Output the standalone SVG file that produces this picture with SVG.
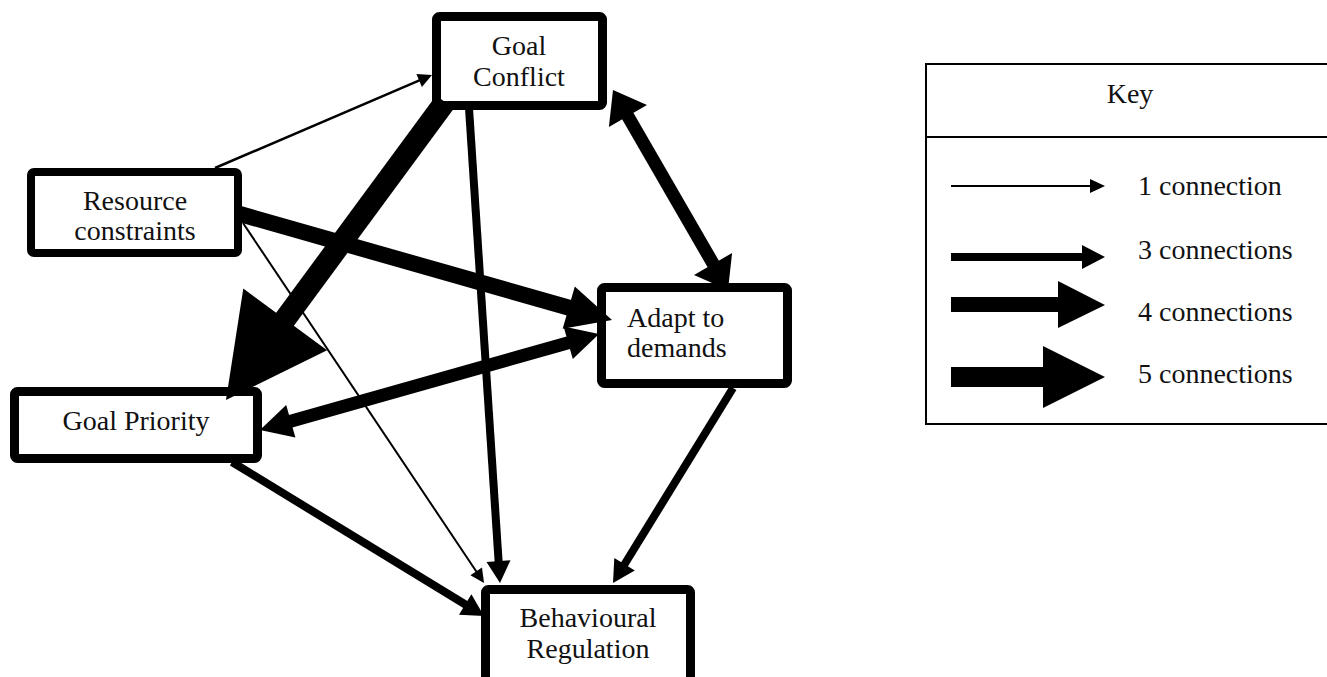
<svg xmlns="http://www.w3.org/2000/svg" width="1327" height="677" viewBox="0 0 1327 677">
<style>
.node{fill:#fff;stroke:#000;stroke-width:9;}
.t{font-family:"Liberation Serif","Times New Roman",serif;font-size:28px;fill:#111;}
.c{text-anchor:middle;}
.sh{stroke:#000;fill:none;stroke-linecap:butt;}
.hd{fill:#000;stroke:none;}
</style>
<rect width="1327" height="677" fill="#fff"/>
<g id="node-goal-conflict">
<rect class="node" x="436.5" y="16.5" width="166" height="89" rx="3"/>
<text class="t c" x="519" y="55">Goal</text>
<text class="t c" x="519" y="86">Conflict</text>
</g>
<g id="node-resource-constraints">
<rect class="node" x="31" y="172" width="207" height="81" rx="3" style="stroke-width:8"/>
<text class="t c" x="135" y="210">Resource</text>
<text class="t c" x="135" y="240">constraints</text>
</g>
<g id="node-goal-priority">
<rect class="node" x="14.5" y="391.5" width="243" height="67" rx="3"/>
<text class="t c" x="136" y="430">Goal Priority</text>
</g>
<g id="node-adapt">
<rect class="node" x="601.5" y="287.5" width="186" height="96" rx="3"/>
<text class="t" x="627" y="327">Adapt to</text>
<text class="t" x="627" y="357">demands</text>
</g>
<g id="node-behavioural">
<rect class="node" x="485.5" y="589.5" width="205" height="100" rx="3"/>
<text class="t c" x="588" y="627">Behavioural</text>
<text class="t c" x="588" y="658">Regulation</text>
</g>
<g id="connectors">
<line class="sh" x1="215" y1="168" x2="420" y2="80.2" stroke-width="2.5"/>
<polygon class="hd" points="432,75 421.9,87 416.4,74.1"/>
<line class="sh" x1="240" y1="214" x2="570" y2="308" stroke-width="16"/>
<polygon class="hd" points="612,320 562.7,328.8 574.8,286.5"/>
<line class="sh" x1="243" y1="223" x2="477" y2="572.5" stroke-width="2"/>
<polygon class="hd" points="484,583 470.4,575.3 482,567.5"/>
<line class="sh" x1="445" y1="102" x2="283" y2="322" stroke-width="22"/>
<polygon class="hd" points="226,400 243.3,288.6 327.1,350.2"/>
<line class="sh" x1="469" y1="108" x2="498.7" y2="563" stroke-width="8"/>
<polygon class="hd" points="500,583 486.5,561.9 510.5,560.2"/>
<line class="sh" x1="626" y1="113" x2="715" y2="267" stroke-width="13"/>
<polygon class="hd" points="613,90 608.9,127 647,105"/>
<polygon class="hd" points="728,290 694,275 732.1,253"/>
<line class="sh" x1="288" y1="422" x2="571" y2="342" stroke-width="13"/>
<polygon class="hd" points="260,430 295.4,437.6 286.2,404.9"/>
<polygon class="hd" points="599,334 572.8,359.1 563.6,326.4"/>
<line class="sh" x1="232" y1="462" x2="467" y2="605.5" stroke-width="8"/>
<polygon class="hd" points="484,616 459,614.8 471.4,594.3"/>
<line class="sh" x1="733" y1="388" x2="623.5" y2="566" stroke-width="8"/>
<polygon class="hd" points="613,583 614.3,558 634.8,570.6"/>
</g>
<g id="key">
<rect x="926" y="64" width="420" height="360" fill="#fff" stroke="#000" stroke-width="2"/>
<line x1="926" y1="137" x2="1327" y2="137" stroke="#000" stroke-width="2"/>
<text class="t c" x="1130" y="103">Key</text>
<line x1="951" y1="186" x2="1092" y2="186" stroke="#000" stroke-width="2"/>
<polygon class="hd" points="1090,179 1105,186 1090,193"/>
<rect x="951" y="253" width="132" height="8" fill="#000"/>
<polygon class="hd" points="1082,245 1105,257 1082,269"/>
<rect x="951" y="297" width="108" height="15" fill="#000"/>
<polygon class="hd" points="1058,281 1105,305 1058,328"/>
<rect x="951" y="367" width="93" height="20" fill="#000"/>
<polygon class="hd" points="1043,346 1105,377 1043,408"/>
<text class="t" x="1138" y="195">1 connection</text>
<text class="t" x="1138" y="259">3 connections</text>
<text class="t" x="1138" y="321">4 connections</text>
<text class="t" x="1138" y="383">5 connections</text>
</g>
</svg>
